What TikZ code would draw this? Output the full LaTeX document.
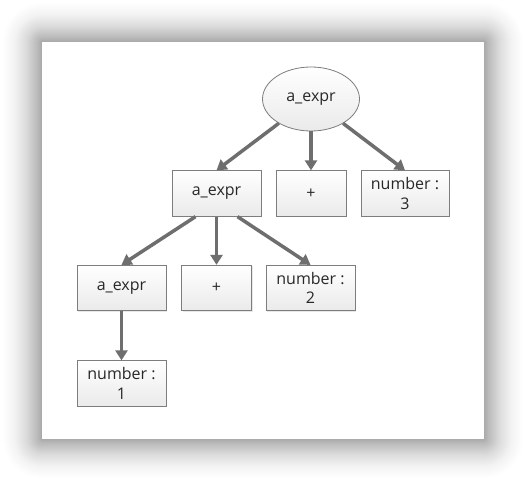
\documentclass[tikz,border=0pt]{standalone}
\usepackage{fontspec}
\setmainfont{Open Sans}
\usetikzlibrary{arrows.meta,shapes.geometric,shadows}
\definecolor{edgegray}{RGB}{110,110,110}
\definecolor{framegray}{RGB}{125,125,125}
\definecolor{shadebottom}{RGB}{234,234,234}
\definecolor{labeltext}{RGB}{40,40,40}
\tikzset{
  every node/.style={font=\fontsize{16}{19.3}\selectfont, text=labeltext, align=center, inner sep=0pt},
  symbox/.style={rectangle, draw=framegray, line width=0.8pt, shading=axis,
    top color=white, bottom color=shadebottom, minimum height=45.5pt,
    drop shadow={shadow xshift=1.2pt, shadow yshift=-1.2pt, opacity=0.18}},
  rootnode/.style={ellipse, draw=framegray, line width=0.8pt, shading=axis,
    top color=white, bottom color=shadebottom, minimum width=97pt, minimum height=64pt},
  link/.style={draw=edgegray, line width=3.5pt, -{Triangle[length=10pt,width=12pt]}}
}
\begin{document}
\begin{tikzpicture}[x=1pt,y=-1pt]
  \useasboundingbox (0,0) rectangle (526,481);
  \fill[white] (0,0) rectangle (526,481);
  % soft shadow around the sheet: thinner layers further out
  \foreach \i in {1,...,44}{
    \pgfmathsetmacro{\op}{0.015*(1-\i/45)}
    \fill[black, fill opacity=\op, rounded corners=\i pt]
      ({42-\i},{42-\i}) rectangle ({484+\i},{439+\i});
  }
  % the sheet
  \fill[white] (42,42) rectangle (484,439);

  % parse tree
  \node[rootnode] (root) at (311,99) {a\_expr};
  \node[symbox, minimum width=89pt] (a1) at (216.5,193.5) {a\_expr};
  \node[symbox, minimum width=70pt] (p1) at (311,193.5) {+};
  \node[symbox, minimum width=88pt] (n3) at (405,193.5) {number :\\3};
  \node[symbox, minimum width=89pt] (a2) at (121.5,288) {a\_expr};
  \node[symbox, minimum width=70pt] (p2) at (216.5,288) {+};
  \node[symbox, minimum width=89pt] (n2) at (310.5,288) {number :\\2};
  \node[symbox, minimum width=89pt] (n1) at (121.5,383.5) {number :\\1};

  \draw[link] (root) -- (a1.north);
  \draw[link] (root) -- (p1.north);
  \draw[link] (root) -- (n3.north);
  \draw[link] ([xshift=-21pt]a1.south) -- (a2.north);
  \draw[link] (a1.south) -- (p2.north);
  \draw[link] ([xshift=21pt]a1.south) -- (n2.north);
  \draw[link] (a2.south) -- (n1.north);
\end{tikzpicture}
\end{document}
